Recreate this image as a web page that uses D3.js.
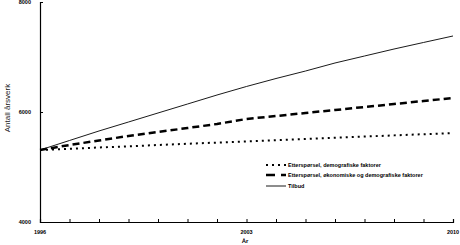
<!DOCTYPE html>
<html>
<head>
<meta charset="utf-8">
<script src="https://cdn.jsdelivr.net/npm/d3@7"></script>
<style>
  body { margin: 0; background: #fff; }
  text { font-family: "Liberation Sans", Arial, sans-serif; fill: #000; }
</style>
</head>
<body>
<div id="wrapper"></div>
<script>
const years = [1996,1997,1998,1999,2000,2001,2002,2003,2004,2005,2006,2007,2008,2009,2010];
const yearLabels = [1996, 2003, 2010];
const yTicks = [4000, 6000, 8000];

const demografisk = [5309,5331,5355,5376,5400,5422,5444,5465,5487,5509,5531,5553,5575,5596,5618];
const okonomisk = [5309,5400,5482,5564,5636,5709,5782,5873,5927,5982,6036,6091,6145,6200,6254];
const tilbud = [5309,5482,5655,5818,5982,6145,6309,6464,6609,6745,6891,7018,7145,7264,7382];

const seriesNames = [
    "Etterspørsel, demografiske faktorer",
    "Etterspørsel, økonomiske og demografiske faktorer",
    "Tilbud"
];

function build() {
    var dimension = {
        width: 460,
        height: 245,
        margin: { top: 2, right: 7, bottom: 23, left: 40 }
    };
    dimension.boundedWidth = dimension.width - dimension.margin.left - dimension.margin.right;
    dimension.boundedHeight = dimension.height - dimension.margin.top - dimension.margin.bottom;

    const svg = d3.select("#wrapper")
        .append("svg")
        .attr("width", dimension.width)
        .attr("height", dimension.height);

    const bounds = svg.append("g")
        .attr("transform", `translate(${dimension.margin.left},${dimension.margin.top})`);

    const x = d3.scaleLinear().domain([1996, 2010]).range([0, dimension.boundedWidth]);
    const y = d3.scaleLinear().domain([4000, 8000]).range([dimension.boundedHeight, 0]);

    // x axis, ticks every year pointing inward
    const xAxis = bounds.append("g")
        .attr("transform", `translate(0,${dimension.boundedHeight})`)
        .call(d3.axisBottom(x).tickValues(years).tickSize(-3).tickFormat(""));
    xAxis.select(".domain").attr("stroke", "#000").attr("stroke-width", 1.2);
    xAxis.selectAll(".tick line").attr("stroke", "#000");

    bounds.append("g")
        .attr("transform", `translate(0,${dimension.boundedHeight})`)
        .selectAll("text")
        .data(yearLabels)
        .enter()
        .append("text")
        .attr("x", d => x(d))
        .attr("y", 12)
        .attr("text-anchor", "middle")
        .style("font-size", "5.5px")
        .style("font-weight", "bold")
        .text(d => d);

    // y axis
    const yAxis = bounds.append("g")
        .call(d3.axisLeft(y).tickValues(yTicks).tickSize(-3).tickPadding(9).tickFormat(d3.format("d")));
    yAxis.select(".domain").attr("stroke", "#000").attr("stroke-width", 1.2);
    yAxis.selectAll(".tick line").attr("stroke", "#000");
    yAxis.selectAll(".tick text")
        .style("font-size", "5.5px")
        .style("font-weight", "bold")
        .style("fill", "#000");

    // axis titles
    svg.append("text")
        .attr("transform", "translate(10,108) rotate(-90)")
        .attr("text-anchor", "middle")
        .style("font-size", "8px")
        .style("fill", "#222")
        .text("Antall årsverk");

    svg.append("text")
        .attr("x", 245)
        .attr("y", 243)
        .attr("text-anchor", "middle")
        .style("font-size", "6px")
        .style("font-weight", "bold")
        .text("År");

    const styles = [
        { width: 2, dash: "2,4" },
        { width: 2.5, dash: "7,4" },
        { width: 0.9, dash: null }
    ];
    const series = [demografisk, okonomisk, tilbud];

    const line = d3.line()
        .x((d, i) => x(years[i]))
        .y(d => y(d));

    bounds.selectAll(".series")
        .data(series)
        .enter()
        .append("path")
        .attr("class", "series")
        .attr("d", d => line(d))
        .attr("fill", "none")
        .attr("stroke", "#000")
        .attr("stroke-width", (d, i) => styles[i].width)
        .attr("stroke-dasharray", (d, i) => styles[i].dash);

    // legend
    const legend = svg.append("g")
        .attr("transform", "translate(266,165)");
    const rows = legend.selectAll("g")
        .data(seriesNames)
        .enter()
        .append("g")
        .attr("transform", (d, i) => `translate(0,${[0, 10, 21][i]})`);
    rows.append("line")
        .attr("x1", 0)
        .attr("x2", 20)
        .attr("stroke", "#000")
        .attr("stroke-width", (d, i) => styles[i].width)
        .attr("stroke-dasharray", (d, i) => i === 1 ? "9,6" : styles[i].dash);
    rows.append("text")
        .attr("x", 22)
        .attr("y", 2)
        .style("font-size", "5.5px")
        .style("font-weight", "bold")
        .text(d => d);
}

build();
</script>
</body>
</html>
